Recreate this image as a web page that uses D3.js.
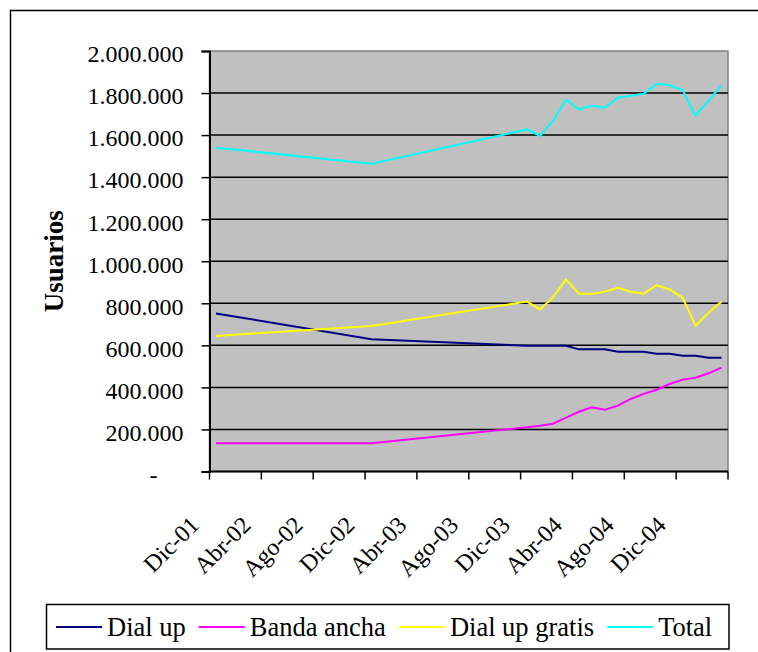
<!DOCTYPE html>
<html>
<head>
<meta charset="utf-8">
<script src="https://cdn.jsdelivr.net/npm/d3@7"></script>
<style>
  html, body { margin: 0; padding: 0; background: #ffffff; }
  svg { display: block; }
  text { font-family: "Liberation Serif", "Times New Roman", serif; fill: #000; }
</style>
</head>
<body>
<svg id="chart" width="758" height="652"></svg>
<script>
// Monthly categories, Dic-01 .. Mar-05
const months = [
  "Dic-01","Ene-02","Feb-02","Mar-02","Abr-02","May-02","Jun-02","Jul-02","Ago-02","Sep-02","Oct-02","Nov-02",
  "Dic-02","Ene-03","Feb-03","Mar-03","Abr-03","May-03","Jun-03","Jul-03","Ago-03","Sep-03","Oct-03","Nov-03",
  "Dic-03","Ene-04","Feb-04","Mar-04","Abr-04","May-04","Jun-04","Jul-04","Ago-04","Sep-04","Oct-04","Nov-04",
  "Dic-04","Ene-05","Feb-05","Mar-05"
];

// Users per month (null = no figure for that month)
const dialUp = [
  752000, null, null, null, null, null, null, null, null, null, null, null,
  629000, null, null, null, null, null, null, null, null, null, null, null,
  598000, 598000, 598000, 598000, 581000, 581000, 581000, 570000, 570000, 570000, 560000, 560000,
  551000, 551000, 541000, 541000
];
const bandaAncha = [
  134000, null, null, null, null, null, null, null, null, null, null, null,
  134000, null, null, null, null, null, null, null, null, null, null, null,
  210000, 218000, 227000, 256000, 284000, 305000, 294000, 313000, 345000, 369000, 389000, 416000,
  437000, 446000, 467000, 494000
];
const dialUpGratis = [
  645000, null, null, null, null, null, null, null, null, null, null, null,
  692000, null, null, null, null, null, null, null, null, null, null, null,
  808000, 771000, 828000, 914000, 846000, 846000, 855000, 874000, 855000, 846000, 886000, 866000,
  827000, 693000, 755000, 808000
];
const total = [
  1540000, null, null, null, null, null, null, null, null, null, null, null,
  1464000, null, null, null, null, null, null, null, null, null, null, null,
  1627000, 1596000, 1667000, 1768000, 1722000, 1740000, 1730000, 1778000, 1787000, 1797000, 1844000, 1837000,
  1814000, 1692000, 1764000, 1837000
];

const seriesNames = ["Dial up", "Banda ancha", "Dial up gratis", "Total"];
const seriesColors = ["#000080", "#FF00FF", "#FFFF00", "#00FFFF"];
const seriesValues = [dialUp, bandaAncha, dialUpGratis, total];

const yTicks = [0, 200000, 400000, 600000, 800000, 1000000, 1200000, 1400000, 1600000, 1800000, 2000000];
const labelEvery = 4;
const yTitle = "Usuarios";

const svg = d3.select("#chart");

// outer chart frame
svg.append("rect")
  .attr("x", 10.5).attr("y", 10.5)
  .attr("width", 760).attr("height", 660)
  .attr("fill", "#fff").attr("stroke", "#000").attr("stroke-width", 1.5);

const plot = { left: 209.5, right: 728, top: 51, bottom: 471.5 };

const x = d3.scaleBand().domain(months).range([plot.left, plot.right]).padding(0);
const y = d3.scaleLinear().domain([0, 2000000]).range([plot.bottom, plot.top]);

const es = d3.formatLocale({ decimal: ",", thousands: ".", grouping: [3], currency: ["", ""] });
const fmt = es.format(",d");

// plot background
svg.append("rect")
  .attr("x", plot.left).attr("y", plot.top)
  .attr("width", plot.right - plot.left).attr("height", plot.bottom - plot.top)
  .attr("fill", "#C0C0C0").attr("stroke", "#808080").attr("stroke-width", 1.5);

// horizontal gridlines
svg.append("g").selectAll("line")
  .data(yTicks.filter(d => d > 0 && d < 2000000))
  .join("line")
  .attr("x1", plot.left).attr("x2", plot.right)
  .attr("y1", d => y(d)).attr("y2", d => y(d))
  .attr("stroke", "#000").attr("stroke-width", 1.5);

// y axis
const yAxis = d3.axisLeft(y).tickValues(yTicks).tickSize(8).tickPadding(18)
  .tickFormat(d => d === 0 ? "-" : fmt(d));
const gy = svg.append("g").attr("transform", `translate(${plot.left},0)`).call(yAxis);
gy.select(".domain").attr("stroke", "#000").attr("stroke-width", 2);
gy.selectAll(".tick line").attr("stroke", "#000").attr("stroke-width", 1.5);
gy.selectAll(".tick text")
  .attr("font-size", 24).attr("fill", "#000")
  .attr("dy", "0.45em")
  .attr("dx", d => d === 0 ? -26 : 0);

// x axis: tick marks at every 4th category boundary, plus the right edge
const boundaries = months.map((m, i) => i).filter(i => i % labelEvery === 0).map(i => x(months[i]));
boundaries.push(plot.right);
svg.append("g").selectAll("line")
  .data(boundaries)
  .join("line")
  .attr("x1", d => d).attr("x2", d => d)
  .attr("y1", plot.bottom).attr("y2", plot.bottom + 8)
  .attr("stroke", "#000").attr("stroke-width", 1.5);
svg.append("line")
  .attr("x1", plot.left - 1).attr("x2", plot.right)
  .attr("y1", plot.bottom).attr("y2", plot.bottom)
  .attr("stroke", "#000").attr("stroke-width", 2);

// rotated month labels
svg.append("g").selectAll("text")
  .data(months.filter((m, i) => i % labelEvery === 0))
  .join("text")
  .attr("transform", d => `translate(${x(d) - 9},${plot.bottom + 55}) rotate(-45)`)
  .attr("text-anchor", "end")
  .attr("font-size", 24)
  .text(d => d);

// y axis title
svg.append("text")
  .attr("transform", `translate(63,${(plot.top + plot.bottom) / 2}) rotate(-90)`)
  .attr("text-anchor", "middle")
  .attr("font-size", 27).attr("font-weight", "bold")
  .text(yTitle);

// series lines
const line = d3.line()
  .x(d => x(d.month) + x.bandwidth() / 2)
  .y(d => y(d.value));

seriesValues.forEach((vals, s) => {
  const pts = months.map((m, i) => ({ month: m, value: vals[i] })).filter(d => d.value != null);
  svg.append("path")
    .datum(pts)
    .attr("d", line)
    .attr("fill", "none")
    .attr("stroke", seriesColors[s])
    .attr("stroke-width", 2)
    .attr("stroke-linejoin", "miter");
});

// legend
const legend = svg.append("g");
legend.append("rect")
  .attr("x", 46.5).attr("y", 604.5).attr("width", 682.5).attr("height", 44.5)
  .attr("fill", "#fff").attr("stroke", "#000").attr("stroke-width", 1.5);
let cx = 56;
const legendY = 627;
seriesNames.forEach((name, s) => {
  legend.append("line")
    .attr("x1", cx).attr("x2", cx + 46)
    .attr("y1", legendY).attr("y2", legendY)
    .attr("stroke", seriesColors[s]).attr("stroke-width", 2);
  const t = legend.append("text")
    .attr("x", cx + 51).attr("y", legendY + 9)
    .attr("font-size", 26.5)
    .text(name);
  cx += 51 + t.node().getComputedTextLength() + 13;
});
</script>
</body>
</html>
